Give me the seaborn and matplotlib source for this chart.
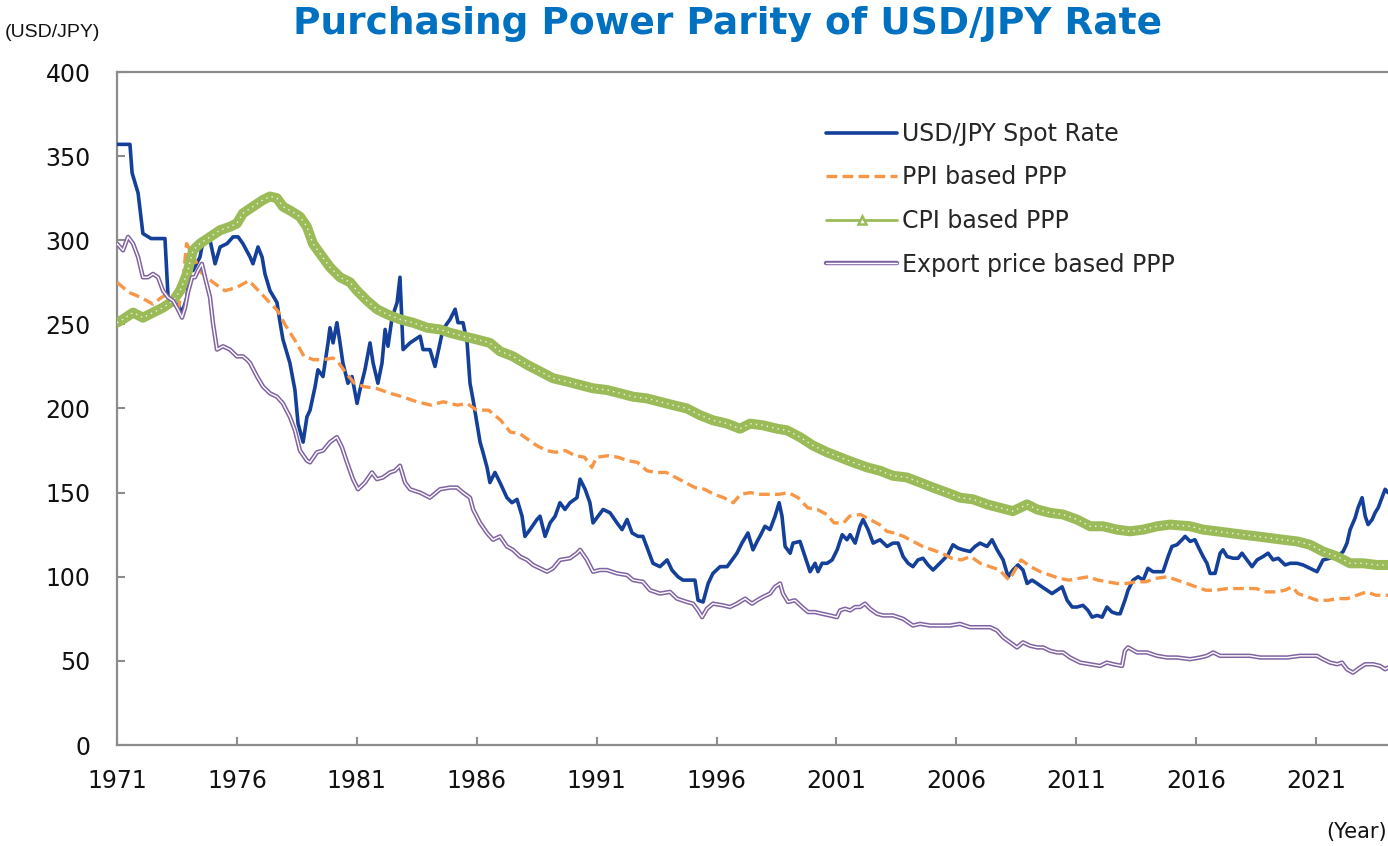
import matplotlib
matplotlib.use("Agg")
import matplotlib.pyplot as plt
import seaborn as sns
from matplotlib.lines import Line2D

# Values (year, JPY per USD)
spot_year = [1971.00, 1971.54, 1971.63, 1971.88, 1972.08, 1972.42, 1973.00, 1973.13, 1973.50, 1973.71,
             1973.92, 1974.04, 1974.17, 1974.46, 1974.54, 1974.67, 1974.88, 1975.09, 1975.30, 1975.59,
             1975.84, 1976.05, 1976.25, 1976.55, 1976.67, 1976.88, 1977.05, 1977.17, 1977.38, 1977.67,
             1977.80, 1977.92, 1978.21, 1978.42, 1978.55, 1978.76, 1978.92, 1979.05, 1979.26, 1979.38,
             1979.59, 1979.80, 1979.88, 1980.01, 1980.17, 1980.30, 1980.42, 1980.63, 1980.80, 1981.01,
             1981.13, 1981.34, 1981.55, 1981.68, 1981.88, 1982.05, 1982.18, 1982.30, 1982.47, 1982.68,
             1982.80, 1982.93, 1983.22, 1983.64, 1983.76, 1984.05, 1984.26, 1984.47, 1984.59, 1984.89,
             1985.10, 1985.22, 1985.43, 1985.60, 1985.72, 1985.85, 1986.14, 1986.26, 1986.43, 1986.55,
             1986.76, 1986.97, 1987.26, 1987.47, 1987.68, 1987.89, 1988.01, 1988.22, 1988.51, 1988.64,
             1988.85, 1989.06, 1989.27, 1989.47, 1989.68, 1989.89, 1990.18, 1990.31, 1990.52, 1990.72,
             1990.85, 1991.06, 1991.27, 1991.56, 1991.85, 1992.06, 1992.27, 1992.48, 1992.73, 1992.93,
             1993.14, 1993.35, 1993.64, 1993.94, 1994.14, 1994.39, 1994.60, 1994.89, 1995.10, 1995.23,
             1995.44, 1995.65, 1995.85, 1996.15, 1996.44, 1996.65, 1996.85, 1997.06, 1997.31, 1997.52,
             1997.73, 1997.81, 1998.02, 1998.23, 1998.44, 1998.61, 1998.73, 1998.86, 1999.07, 1999.19,
             1999.48, 1999.69, 1999.90, 2000.11, 2000.23, 2000.40, 2000.61, 2000.82, 2001.03, 2001.24,
             2001.44, 2001.57, 2001.78, 2001.98, 2002.11, 2002.32, 2002.53, 2002.82, 2003.11, 2003.36,
             2003.57, 2003.78, 2003.99, 2004.19, 2004.40, 2004.61, 2004.82, 2005.03, 2005.24, 2005.45,
             2005.65, 2005.86, 2006.07, 2006.28, 2006.57, 2006.78, 2006.99, 2007.28, 2007.49, 2007.70,
             2007.95, 2008.16, 2008.36, 2008.57, 2008.78, 2008.95, 2009.16, 2009.37, 2009.57, 2009.78,
             2009.99, 2010.20, 2010.41, 2010.62, 2010.83, 2011.03, 2011.28, 2011.49, 2011.66, 2011.87,
             2012.08, 2012.28, 2012.49, 2012.70, 2012.83, 2013.03, 2013.16, 2013.37, 2013.58, 2013.79,
             2013.99, 2014.20, 2014.41, 2014.62, 2014.83, 2014.99, 2015.20, 2015.41, 2015.54, 2015.75,
             2015.95, 2016.08, 2016.29, 2016.45, 2016.58, 2016.79, 2017.00, 2017.12, 2017.29, 2017.54,
             2017.75, 2017.91, 2018.12, 2018.33, 2018.54, 2018.79, 2019.00, 2019.21, 2019.42, 2019.71,
             2019.92, 2020.21, 2020.46, 2020.75, 2021.04, 2021.29, 2021.58, 2021.88, 2022.13, 2022.29,
             2022.42, 2022.63, 2022.75, 2022.92, 2023.05, 2023.17, 2023.34, 2023.46, 2023.59, 2023.75,
             2023.88, 2024.00]
spot_value = [357, 357, 340, 328, 304, 301, 301, 266, 263, 257,
              266, 290, 282, 290, 296, 300, 300, 286, 296, 298,
              302, 302, 298, 290, 286, 296, 290, 280, 270, 263,
              251, 241, 227, 211, 191, 180, 195, 199, 213, 223,
              219, 239, 248, 239, 251, 239, 227, 215, 219, 203,
              211, 223, 239, 227, 215, 227, 247, 237, 254, 263,
              278, 235, 239, 243, 235, 235, 225, 239, 247, 253,
              259, 251, 251, 239, 215, 205, 180, 174, 165, 156,
              162, 156, 147, 144, 146, 136, 124, 128, 134, 136,
              124, 132, 136, 144, 140, 144, 147, 158, 152, 144,
              132, 136, 140, 138, 132, 128, 134, 126, 124, 124,
              116, 108, 106, 110, 104, 100, 98, 98, 98, 86,
              85, 96, 102, 106, 106, 110, 114, 120, 126, 116,
              122, 124, 130, 128, 136, 144, 136, 118, 114, 120,
              121, 112, 103, 108, 103, 108, 108, 110, 116, 125,
              122, 125, 120, 130, 134, 128, 120, 122, 118, 120,
              120, 112, 108, 106, 110, 111, 107, 104, 107, 110,
              113, 119, 117, 116, 115, 118, 120, 118, 122, 116,
              110, 100, 104, 107, 104, 96, 98, 96, 94, 92,
              90, 92, 94, 86, 82, 82, 83, 80, 76, 77,
              76, 82, 79, 78, 78, 86, 92, 98, 100, 98,
              105, 103, 103, 103, 112, 118, 119, 122, 124, 121,
              122, 118, 112, 108, 102, 102, 114, 116, 112, 111,
              111, 114, 110, 106, 110, 112, 114, 110, 111, 107,
              108, 108, 107, 105, 103, 110, 111, 112, 115, 120,
              128, 135, 141, 147, 136, 131, 134, 138, 141, 147,
              152, 150]

ppi_year = [1971.00, 1971.50, 1972.00, 1972.50, 1972.85, 1973.10, 1973.30, 1973.55, 1973.75, 1973.90,
            1974.20, 1974.50, 1975.00, 1975.50, 1976.00, 1976.50, 1976.90, 1977.30, 1977.70, 1978.00,
            1978.40, 1978.80, 1979.20, 1979.60, 1980.00, 1980.20, 1980.50, 1980.90, 1981.30, 1981.80,
            1982.40, 1982.90, 1983.50, 1984.10, 1984.60, 1985.20, 1985.60, 1986.00, 1986.50, 1987.00,
            1987.40, 1987.80, 1988.20, 1988.50, 1988.90, 1989.30, 1989.70, 1990.10, 1990.50, 1990.80,
            1991.00, 1991.50, 1991.90, 1992.30, 1992.70, 1993.10, 1993.50, 1993.90, 1994.30, 1994.70,
            1995.10, 1995.50, 1995.90, 1996.30, 1996.70, 1997.00, 1997.40, 1997.80, 1998.20, 1998.60,
            1999.00, 1999.40, 1999.80, 2000.20, 2000.60, 2000.90, 2001.30, 2001.55, 2002.00, 2002.40,
            2002.80, 2003.10, 2003.40, 2003.80, 2004.20, 2004.60, 2005.00, 2005.40, 2005.80, 2006.20,
            2006.60, 2007.00, 2007.40, 2007.80, 2008.20, 2008.45, 2008.70, 2009.10, 2009.50, 2009.90,
            2010.30, 2010.70, 2011.10, 2011.50, 2011.90, 2012.30, 2012.70, 2013.10, 2013.50, 2013.90,
            2014.30, 2014.80, 2015.20, 2015.60, 2016.00, 2016.40, 2016.80, 2017.30, 2017.70, 2018.10,
            2018.50, 2018.90, 2019.30, 2019.70, 2020.00, 2020.25, 2020.65, 2021.05, 2021.50, 2021.90,
            2022.30, 2022.70, 2023.10, 2023.50, 2024.00]
ppi_value = [275, 269, 266, 262, 266, 268, 265, 258, 276, 298,
             290, 281, 275, 270, 272, 276, 270, 264, 258, 250,
             241, 231, 229, 229, 230, 228, 222, 215, 213, 212,
             209, 207, 204, 202, 204, 202, 203, 199, 199, 193,
             186, 185, 181, 178, 175, 174, 175, 172, 171, 165,
             171, 172, 171, 169, 168, 163, 162, 162, 159, 156,
             153, 152, 149, 147, 144, 149, 150, 149, 149, 149,
             150, 147, 141, 140, 137, 132, 132, 136, 137, 134,
             131, 127, 126, 124, 121, 118, 116, 114, 111, 110,
             112, 108, 106, 104, 98, 104, 110, 106, 103, 101,
             99, 98, 99, 100, 98, 97, 96, 96, 97, 97,
             99, 100, 98, 96, 94, 92, 92, 93, 93, 93,
             93, 91, 91, 92, 94, 90, 88, 86, 86, 87,
             87, 89, 91, 89, 89]

cpi_year = [1971.00, 1971.25, 1971.67, 1972.08, 1972.50, 1972.92, 1973.34, 1973.63, 1973.92, 1974.17,
            1974.46, 1974.88, 1975.30, 1975.71, 1976.00, 1976.25, 1976.67, 1977.09, 1977.38, 1977.67,
            1977.92, 1978.30, 1978.63, 1978.92, 1979.17, 1979.47, 1979.88, 1980.30, 1980.72, 1981.01,
            1981.43, 1981.84, 1982.26, 1982.80, 1983.34, 1983.93, 1984.47, 1984.89, 1985.43, 1986.01,
            1986.55, 1986.97, 1987.51, 1988.10, 1988.64, 1989.18, 1989.77, 1990.31, 1990.85, 1991.43,
            1991.98, 1992.52, 1993.10, 1993.64, 1994.19, 1994.77, 1995.31, 1995.85, 1996.44, 1996.98,
            1997.40, 1997.94, 1998.52, 1998.94, 1999.48, 2000.02, 2000.61, 2001.15, 2001.69, 2002.28,
            2002.82, 2003.36, 2003.94, 2004.49, 2005.03, 2005.61, 2006.15, 2006.70, 2007.28, 2007.82,
            2008.36, 2008.95, 2009.37, 2009.91, 2010.45, 2011.03, 2011.58, 2012.12, 2012.70, 2013.24,
            2013.79, 2014.37, 2014.91, 2015.75, 2016.29, 2016.87, 2017.41, 2017.96, 2018.54, 2019.08,
            2019.62, 2020.21, 2020.75, 2021.29, 2021.88, 2022.42, 2022.96, 2023.54, 2024.00]
cpi_value = [251, 253, 257, 254, 257, 260, 264, 270, 280, 294,
             298, 302, 306, 308, 310, 316, 320, 324, 326, 325,
             320, 317, 314, 308, 298, 292, 284, 278, 275, 270,
             264, 259, 256, 253, 251, 248, 247, 245, 243, 241,
             239, 234, 231, 226, 222, 218, 216, 214, 212, 211,
             209, 207, 206, 204, 202, 200, 196, 193, 191, 188,
             191, 190, 188, 187, 183, 178, 174, 171, 168, 165,
             163, 160, 159, 156, 153, 150, 147, 146, 143, 141,
             139, 143, 140, 138, 137, 134, 130, 130, 128, 127,
             128, 130, 131, 130, 128, 127, 126, 125, 124, 123,
             122, 121, 119, 115, 112, 108, 108, 107, 107]

export_year = [1971.00, 1971.25, 1971.46, 1971.67, 1971.88, 1972.08, 1972.29, 1972.50, 1972.71, 1972.92,
               1973.13, 1973.34, 1973.54, 1973.71, 1973.84, 1973.96, 1974.13, 1974.25, 1974.38, 1974.54,
               1974.67, 1974.88, 1975.00, 1975.17, 1975.42, 1975.71, 1976.00, 1976.25, 1976.42, 1976.55,
               1976.84, 1977.09, 1977.38, 1977.67, 1977.92, 1978.21, 1978.42, 1978.63, 1978.92, 1979.05,
               1979.34, 1979.59, 1979.88, 1980.17, 1980.38, 1980.59, 1980.84, 1981.05, 1981.34, 1981.63,
               1981.84, 1982.09, 1982.38, 1982.59, 1982.80, 1983.01, 1983.22, 1983.64, 1984.05, 1984.47,
               1984.89, 1985.18, 1985.43, 1985.72, 1985.85, 1986.14, 1986.43, 1986.68, 1986.97, 1987.26,
               1987.51, 1987.81, 1988.10, 1988.35, 1988.64, 1988.93, 1989.18, 1989.47, 1989.89, 1990.18,
               1990.31, 1990.60, 1990.85, 1991.14, 1991.43, 1991.85, 1992.27, 1992.52, 1992.93, 1993.23,
               1993.64, 1994.06, 1994.35, 1994.77, 1995.02, 1995.23, 1995.40, 1995.60, 1995.85, 1996.27,
               1996.56, 1996.85, 1997.19, 1997.48, 1997.69, 1997.94, 1998.23, 1998.44, 1998.65, 1998.77,
               1998.98, 1999.27, 1999.57, 1999.82, 2000.11, 2000.40, 2000.73, 2001.02, 2001.15, 2001.36,
               2001.57, 2001.78, 2001.98, 2002.19, 2002.40, 2002.69, 2002.94, 2003.36, 2003.78, 2004.19,
               2004.49, 2004.90, 2005.32, 2005.74, 2006.15, 2006.57, 2006.99, 2007.41, 2007.70, 2007.95,
               2008.24, 2008.53, 2008.78, 2009.07, 2009.37, 2009.62, 2009.91, 2010.20, 2010.45, 2010.74,
               2011.16, 2011.58, 2011.99, 2012.28, 2012.54, 2012.91, 2013.03, 2013.16, 2013.54, 2013.95,
               2014.37, 2014.79, 2015.20, 2015.75, 2016.16, 2016.45, 2016.71, 2017.00, 2017.41, 2017.83,
               2018.25, 2018.67, 2019.21, 2019.79, 2020.33, 2020.75, 2021.04, 2021.29, 2021.58, 2021.88,
               2022.08, 2022.29, 2022.54, 2022.83, 2023.05, 2023.38, 2023.67, 2023.88, 2024.00]
export_value = [298, 294, 302, 298, 290, 278, 278, 280, 278, 270,
                266, 264, 259, 254, 260, 269, 278, 278, 282, 286,
                278, 266, 251, 235, 237, 235, 231, 231, 229, 227,
                219, 213, 209, 207, 203, 195, 187, 175, 169, 168,
                174, 175, 180, 183, 177, 168, 158, 152, 156, 162,
                158, 159, 162, 163, 166, 156, 152, 150, 147, 152,
                153, 153, 150, 147, 140, 132, 126, 122, 124, 118,
                116, 112, 110, 107, 105, 103, 105, 110, 111, 114,
                116, 110, 103, 104, 104, 102, 101, 98, 97, 92,
                90, 91, 87, 85, 84, 80, 76, 81, 84, 83,
                82, 84, 87, 84, 86, 88, 90, 94, 96, 90,
                85, 86, 82, 79, 79, 78, 77, 76, 80, 81,
                80, 82, 82, 84, 81, 78, 77, 77, 75, 71,
                72, 71, 71, 71, 72, 70, 70, 70, 68, 64,
                61, 58, 61, 59, 58, 58, 56, 55, 55, 52,
                49, 48, 47, 49, 48, 47, 56, 58, 55, 55,
                53, 52, 52, 51, 52, 53, 55, 53, 53, 53,
                53, 52, 52, 52, 53, 53, 53, 51, 49, 48,
                49, 45, 43, 46, 48, 48, 47, 45, 46]

x_ticks = list(range(1971, 2022, 5))
y_ticks = list(range(0, 401, 50))

blue = "#14409A"
orange = "#F79646"
green = "#9BBB59"
purple = "#8064A2"
axis_grey = "#8C8C8C"

sns.set_style("ticks")
plt.rcParams["font.family"] = ["DejaVu Sans"]

fig = plt.figure(figsize=(13.88, 8.46), dpi=100)
ax = fig.add_axes([117 / 1388, 1 - 745 / 846, 1 - 117 / 1388, (745 - 72) / 846])

# series, in the same order as the legend
sns.lineplot(x=spot_year, y=spot_value, ax=ax, color=blue, linewidth=2.6, zorder=3)
sns.lineplot(x=ppi_year, y=ppi_value, ax=ax, color=orange, linewidth=2.4,
             linestyle=(0, (3.2, 1.6)), zorder=4)
# CPI line is a dense run of hollow triangles -> thick band with white specks
sns.lineplot(x=cpi_year, y=cpi_value, ax=ax, color=green, linewidth=7.2, zorder=5)
ax.plot(cpi_year, cpi_value, color="white", linewidth=1.0, linestyle=(0, (1, 3)),
        alpha=0.85, zorder=5)
# export price PPP is a double (hollow) line
sns.lineplot(x=export_year, y=export_value, ax=ax, color=purple, linewidth=3.2, zorder=6)
ax.plot(export_year, export_value, color="white", linewidth=1.0, zorder=6)

ax.set_xlim(1971, 2024.0)
ax.set_ylim(0, 400)
ax.set_xticks(x_ticks)
ax.set_yticks(y_ticks)
ax.set_xlabel("")
ax.set_ylabel("")
ax.tick_params(direction="in", length=6, width=1.5, color=axis_grey,
               labelsize=17, labelcolor="#111111")
ax.tick_params(axis="y", pad=19)
ax.tick_params(axis="x", pad=17)
for side in ["left", "bottom", "top"]:
    ax.spines[side].set_color(axis_grey)
    ax.spines[side].set_linewidth(1.6)
ax.spines["right"].set_visible(False)

handles = [
    Line2D([], [], color=blue, linewidth=2.6),
    Line2D([], [], color=orange, linewidth=2.4, linestyle=(0, (3.2, 1.6))),
    Line2D([], [], color=green, linewidth=2.0, marker="^", markersize=6,
           markerfacecolor="white", markeredgecolor=green, markeredgewidth=1.8),
    (Line2D([], [], color=purple, linewidth=3.2), Line2D([], [], color="white", linewidth=1.0)),
]
labels = ["USD/JPY Spot Rate", "PPI based PPP", "CPI based PPP", "Export price based PPP"]
ax.legend(handles, labels, loc="upper left", bbox_to_anchor=(0.558, 0.926),
          frameon=False, fontsize=17, handlelength=3.0, handletextpad=0.2,
          labelspacing=0.83, borderpad=0, borderaxespad=0)

fig.text(0.5245, 0.972, "Purchasing Power Parity of USD/JPY Rate", ha="center", va="center",
         fontsize=27, fontweight="bold", color="#0070C0")
fig.text(0.0035, 0.962, "(USD/JPY)", ha="left", va="center", fontsize=14,
         family=["Liberation Sans", "DejaVu Sans"], color="#111111")
fig.text(0.9995, 0.017, "(Year)", ha="right", va="center", fontsize=15, color="#111111")

fig.savefig("out.png", dpi=100)
